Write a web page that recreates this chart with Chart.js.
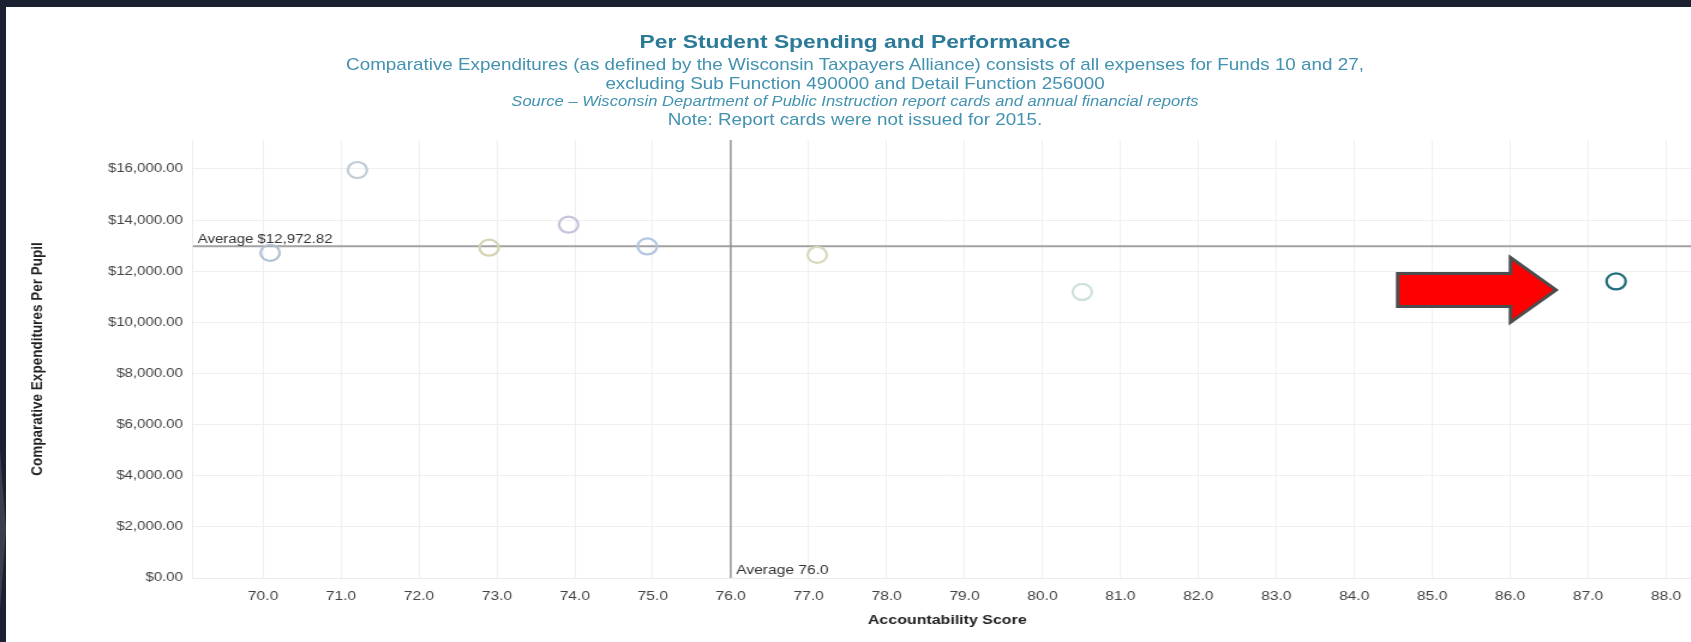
<!DOCTYPE html>
<html>
<head>
<meta charset="utf-8">
<script src="https://cdn.jsdelivr.net/npm/chart.js@4.4.1/dist/chart.umd.min.js"></script>
<style>
  html, body { margin:0; padding:0; }
  body { width:1691px; height:642px; overflow:hidden; background:#1b2130; position:relative; font-family:"Liberation Sans", Arial, sans-serif; }
  #chevron { position:absolute; left:0; top:450px; width:6px; height:160px; background:#3a3f4b; clip-path:polygon(0 0, 100% 50%, 0 100%); }
  #frame { position:absolute; left:6px; top:7px; width:1698px; height:635px; background:#ffffff; overflow:hidden; }
  #inner { position:absolute; left:0; top:0; width:1415px; height:635px; transform:scaleX(1.2); transform-origin:0 0; }
  #c { position:absolute; left:0; top:0; }
  .hd { position:absolute; left:0; width:1415px; text-align:center; white-space:nowrap; }
  #t0 { top:23px; font-size:19px; line-height:24px; font-weight:bold; color:#2b7a98; }
  #t1 { top:48px; font-size:15.7px; line-height:19px; color:#4292b0; }
  #t2 { top:66.5px; font-size:15.7px; line-height:19px; color:#4292b0; }
  #t3 { top:85.5px; font-size:13.8px; line-height:18px; font-style:italic; color:#4292b0; }
  #t4 { top:102.5px; font-size:15.7px; line-height:19px; color:#4292b0; }
</style>
</head>
<body>
<div id="chevron"></div>
<div id="frame">
  <div id="inner">
    <canvas id="c" width="1415" height="635" style="width:1415px;height:635px"></canvas>
    <div class="hd" id="t0">Per Student Spending and Performance</div>
    <div class="hd" id="t1">Comparative Expenditures (as defined by the Wisconsin Taxpayers Alliance) consists of all expenses for Funds 10 and 27,</div>
    <div class="hd" id="t2">excluding Sub Function 490000 and Detail Function 256000</div>
    <div class="hd" id="t3">Source – Wisconsin Department of Public Instruction report cards and annual financial reports</div>
    <div class="hd" id="t4">Note: Report cards were not issued for 2015.</div>
  </div>
</div>
<script>
// ---- data ----
const scores   = [70.09, 71.21, 72.90, 73.92, 74.93, 77.11, 80.51, 87.36];
const spending = [12720, 15960, 12920, 13820, 12970, 12640, 11190, 11600];
const pointColors = ['#b3c2d3', '#bfcbd6', '#d5d4b6', '#c7c3db', '#b2c7df', '#d8d7bc', '#cde2d9', '#1f6e7a'];
const avgScore = 76.0;
const avgSpending = 12972.82;
const highlightIndex = 7;
const xTitle = 'Accountability Score';
const yTitle = 'Comparative Expenditures Per Pupil';
const xTicks = [70, 71, 72, 73, 74, 75, 76, 77, 78, 79, 80, 81, 82, 83, 84, 85, 86, 87, 88];
const yTicks = [0, 2000, 4000, 6000, 8000, 10000, 12000, 14000, 16000];
const xRange = [69.10, 88.457];
const yRange = [0, 17134];

const FONT = '"Liberation Sans", Arial, sans-serif';
const money = v => '$' + Number(v).toLocaleString('en-US', {minimumFractionDigits: 2, maximumFractionDigits: 2});

const points = scores.map((s, i) => ({x: s, y: spending[i]}));

const averagePlugin = {
  id: 'averages',
  beforeDatasetsDraw(chart) {
    const {ctx, chartArea: a, scales: {x, y}} = chart;
    const yA = y.getPixelForValue(avgSpending);
    const xA = x.getPixelForValue(avgScore);
    ctx.save();
    ctx.beginPath();
    ctx.strokeStyle = '#a2a2a2';
    ctx.lineWidth = 2;
    ctx.moveTo(a.left, yA); ctx.lineTo(a.right, yA);
    ctx.stroke();
    ctx.beginPath();
    ctx.strokeStyle = '#8e8e8e';
    ctx.lineWidth = 1.4;
    ctx.moveTo(xA, a.top); ctx.lineTo(xA, a.bottom);
    ctx.stroke();
    ctx.fillStyle = '#333333';
    ctx.font = '12.5px ' + FONT;
    ctx.textAlign = 'left';
    ctx.textBaseline = 'alphabetic';
    ctx.fillText('Average ' + money(avgSpending), a.left + 4, yA - 3);
    ctx.font = '13px ' + FONT;
    ctx.textBaseline = 'middle';
    ctx.fillText('Average ' + avgScore.toFixed(1), xA + 4.5, a.bottom - 8);
    ctx.restore();
  }
};

const arrowPlugin = {
  id: 'arrow',
  afterDatasetsDraw(chart) {
    const {ctx, scales: {x, y}} = chart;
    const px = x.getPixelForValue(scores[highlightIndex]);
    const py = y.getPixelForValue(spending[highlightIndex]);
    const tipX = px - 50, cy = py + 8.5;
    const headBase = tipX - 38, tail = tipX - 132;
    const sh = 16.5, hh = 32.4;
    ctx.save();
    ctx.beginPath();
    ctx.moveTo(tail, cy - sh);
    ctx.lineTo(headBase, cy - sh);
    ctx.lineTo(headBase, cy - hh);
    ctx.lineTo(tipX, cy);
    ctx.lineTo(headBase, cy + hh);
    ctx.lineTo(headBase, cy + sh);
    ctx.lineTo(tail, cy + sh);
    ctx.closePath();
    ctx.fillStyle = '#ff0000';
    ctx.fill();
    ctx.lineJoin = 'miter';
    ctx.strokeStyle = '#4d4d4d';
    ctx.lineWidth = 3;
    ctx.stroke();
    ctx.restore();
  }
};

new Chart(document.getElementById('c'), {
  type: 'scatter',
  data: {
    datasets: [{
      data: points,
      pointStyle: 'circle',
      pointRadius: 8,
      pointHoverRadius: 8,
      pointBorderWidth: 2.2,
      pointBackgroundColor: 'rgba(255,255,255,0)',
      pointBorderColor: pointColors,
      showLine: false,
      clip: false
    }]
  },
  options: {
    responsive: false,
    animation: false,
    events: [],
    layout: { autoPadding: false, padding: { top: 133, left: 0, right: 2, bottom: 0 } },
    plugins: { legend: { display: false }, tooltip: { enabled: false }, title: { display: false } },
    scales: {
      x: {
        type: 'linear',
        min: xRange[0], max: xRange[1],
        grid: { color: '#efefef', drawTicks: false },
        border: { color: '#ececec' },
        afterBuildTicks: s => { s.ticks = xTicks.map(v => ({ value: v })); },
        ticks: {
          autoSkip: false, maxRotation: 0,
          padding: 11, color: '#444444', font: { family: FONT, size: 13 },
          callback: v => Number(v).toFixed(1)
        },
        title: { display: true, text: xTitle, color: '#222222', font: { family: FONT, size: 13.3, weight: 'bold' }, padding: { top: 4, bottom: 14 } },
        afterFit: s => { s.height = 64; }
      },
      y: {
        type: 'linear',
        min: yRange[0], max: yRange[1],
        grid: { color: '#efefef', drawTicks: false },
        border: { color: '#ececec' },
        afterBuildTicks: s => { s.ticks = yTicks.map(v => ({ value: v })); },
        ticks: {
          autoSkip: false,
          padding: 8.3, color: '#444444', font: { family: FONT, size: 12.5 },
          callback: v => money(v)
        },
        title: { display: true, text: yTitle, color: '#222222', font: { family: FONT, size: 13.5, weight: 'bold' }, padding: { top: 18.6, bottom: 0 } },
        afterFit: s => { s.width = 155.8; }
      }
    }
  },
  plugins: [averagePlugin, arrowPlugin]
});
</script>
</body>
</html>
